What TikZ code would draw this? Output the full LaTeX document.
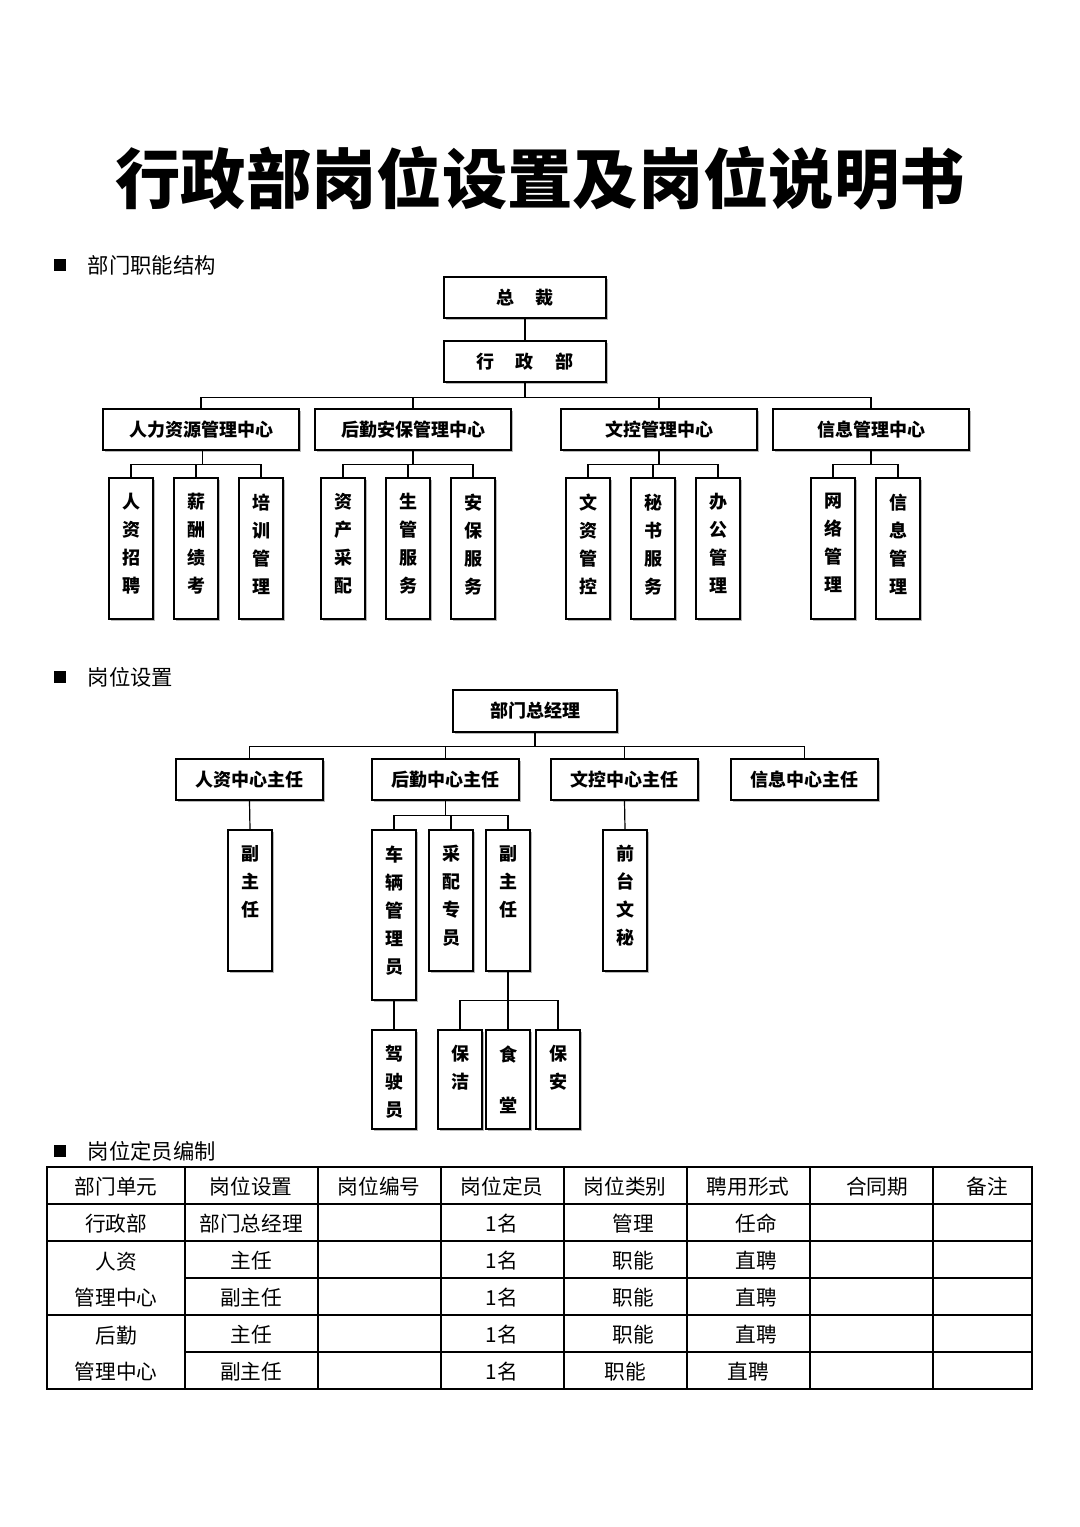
\documentclass[tikz,border=0pt]{standalone}
\usepackage{fontspec}
\setmainfont{Noto Sans CJK SC}
\usetikzlibrary{fit,shadows}
\tikzset{
 box/.style={draw,line width=1.1pt,fill=white,inner sep=0pt,drop shadow={shadow xshift=1.6pt,shadow yshift=-1.6pt,fill=gray!55,opacity=1}},
 lab/.style={font=\fontsize{13.5}{15}\selectfont\bfseries},
 vlab/.style={font=\fontsize{13.5}{21}\selectfont\bfseries,align=center,anchor=north,inner sep=0pt},
 conn/.style={line width=0.9pt},
 sec/.style={font=\fontsize{16}{18}\selectfont,anchor=west},
 cell/.style={font=\fontsize{15.5}{18}\selectfont},
 tl/.style={line width=0.8pt}
}
\newcommand{\bx}[6]{\node[box,fit={(#2,#3)(#4,#5)}] (#1) {}; \node[lab] at (#1.center) {#6};}
\newcommand{\vb}[6]{\node[box,fit={(#2,#3)(#4,#5)}] (#1) {}; \node[vlab] at ([yshift=-12pt]#1.north) {#6};}
\begin{document}
\begin{tikzpicture}[x=0.75pt,y=-0.75pt]
\useasboundingbox (0,0) rectangle (1080,1527);
\node[font=\fontsize{49}{52}\selectfont\bfseries] (title) at (540,178) {行政部岗位设置及岗位说明书};
% section 1
\fill (54,259) rectangle (66,271);
\node[sec] (s1) at (83,265) {部门职能结构};
\bx{ceo}{444}{277}{606}{318}{总\hspace{1.2em}裁}
\bx{xzb}{444}{341}{606}{382}{行\hspace{1.2em}政\hspace{1.2em}部}
\bx{hr}{103}{409}{299}{450}{人力资源管理中心}
\bx{hq}{315}{409}{511}{450}{后勤安保管理中心}
\bx{wk}{561}{409}{757}{450}{文控管理中心}
\bx{xx}{773}{409}{969}{450}{信息管理中心}
\draw[conn] (ceo) -- (xzb);
\foreach \c in {hr,hq,wk,xx}{\draw[conn] (xzb.south) -- ++(0,15) -| (\c.north);}
\vb{a1}{109}{478}{153}{619}{人\\资\\招\\聘}
\vb{a2}{174}{478}{218}{619}{薪\\酬\\绩\\考}
\vb{a3}{239}{478}{283}{619}{培\\训\\管\\理}
\vb{b1}{321}{478}{365}{619}{资\\产\\采\\配}
\vb{b2}{386}{478}{430}{619}{生\\管\\服\\务}
\vb{b3}{451}{478}{495}{619}{安\\保\\服\\务}
\vb{c1}{566}{478}{610}{619}{文\\资\\管\\控}
\vb{c2}{631}{478}{675}{619}{秘\\书\\服\\务}
\vb{c3}{696}{478}{740}{619}{办\\公\\管\\理}
\vb{d1}{811}{478}{855}{619}{网\\络\\管\\理}
\vb{d2}{876}{478}{920}{619}{信\\息\\管\\理}
\foreach \c in {a1,a2,a3}{\draw[conn] ([xshift=1pt]hr.south) -- ++(0,14) -| (\c.north);}
\foreach \c in {b1,b2,b3}{\draw[conn] (hq.south) -- ++(0,14) -| (\c.north);}
\foreach \c in {c1,c2,c3}{\draw[conn] (wk.south) -- ++(0,14) -| (\c.north);}
\foreach \c in {d1,d2}{\draw[conn] (xx.south) -- ++(0,14) -| (\c.north);}
% section 2
\fill (54,671) rectangle (66,683);
\node[sec] (s2) at (83,677) {岗位设置};
\bx{gm}{453}{690}{617}{732}{部门总经理}
\bx{r1}{176}{759}{323}{800}{人资中心主任}
\bx{r2}{372}{759}{519}{800}{后勤中心主任}
\bx{r3}{551}{759}{698}{800}{文控中心主任}
\bx{r4}{731}{759}{878}{800}{信息中心主任}
\foreach \c in {r1,r2,r3,r4}{\draw[conn] (gm.south) -- ++(0,14) -| (\c.north);}
\vb{p1}{228}{830}{272}{971}{副\\主\\任}
\vb{p2}{372}{830}{416}{1000}{车\\辆\\管\\理\\员}
\vb{p3}{429}{830}{473}{971}{采\\配\\专\\员}
\vb{p4}{486}{830}{530}{971}{副\\主\\任}
\vb{p5}{603}{830}{647}{971}{前\\台\\文\\秘}
\draw[conn] (r1.south) -- (p1.north);
\draw[conn] (r3.south) -- (p5.north);
\foreach \c in {p2,p3,p4}{\draw[conn] (r2.south) -- ++(0,15) -| (\c.north);}
\vb{q0}{372}{1030}{416}{1129}{驾\\驶\\员}
\vb{q1}{438}{1030}{482}{1129}{保\\洁}
\node[box,fit={(486,1030)(530,1129)}] (q2) {};
\node[vlab] at ([yshift=-12pt]q2.north) {食};
\node[vlab,anchor=south] at ([yshift=12pt]q2.south) {堂};
\vb{q3}{536}{1030}{580}{1129}{保\\安}
\draw[conn] (p2.south) -- (q0.north);
\foreach \c in {q1,q2,q3}{\draw[conn] (p4.south) -- ++(0,29) -| (\c.north);}
% section 3
\fill (54,1145) rectangle (66,1157);
\node[sec] (s3) at (83,1151) {岗位定员编制};
\draw[tl] (47,1167) rectangle (1032,1389);
\foreach \y in {1204,1241,1315}{\draw[tl] (47,\y) -- (1032,\y);}
\foreach \y in {1278,1352}{\draw[tl] (185,\y) -- (1032,\y);}
\foreach \x in {185,318,441,564,687,810,933}{\draw[tl] (\x,1167) -- (\x,1389);}
\foreach \t [count=\i] in {部门单元,岗位设置,岗位编号,岗位定员,岗位类别,聘用形式,合同期,备注}{}
\node[cell] at (116,1187) {部门单元};
\node[cell] at (251,1187) {岗位设置};
\node[cell] at (379,1187) {岗位编号};
\node[cell] at (502,1187) {岗位定员};
\node[cell] at (625,1187) {岗位类别};
\node[cell] at (748,1187) {聘用形式};
\node[cell] at (877,1187) {合同期};
\node[cell] at (987,1187) {备注};
\node[cell] at (116,1224) {行政部};
\node[cell] at (251,1224) {部门总经理};
\node[cell] at (116,1262) {人资};
\node[cell] at (116,1298) {管理中心};
\node[cell] at (116,1336) {后勤};
\node[cell] at (116,1372) {管理中心};
\foreach \y/\p in {1224/部门总经理,1261/主任,1298/副主任,1335/主任,1372/副主任}{
 \ifx\p\empty\else\fi
 \node[cell] at (502,\y) {1名};
}
\node[cell] at (251,1261) {主任};
\node[cell] at (251,1298) {副主任};
\node[cell] at (251,1335) {主任};
\node[cell] at (251,1372) {副主任};
\node[cell] at (633,1224) {管理};
\node[cell] at (756,1224) {任命};
\foreach \y in {1261,1298,1335}{\node[cell] at (633,\y) {职能}; \node[cell] at (756,\y) {直聘};}
\node[cell] at (625,1372) {职能};
\node[cell] at (748,1372) {直聘};
\end{tikzpicture}
\end{document}
